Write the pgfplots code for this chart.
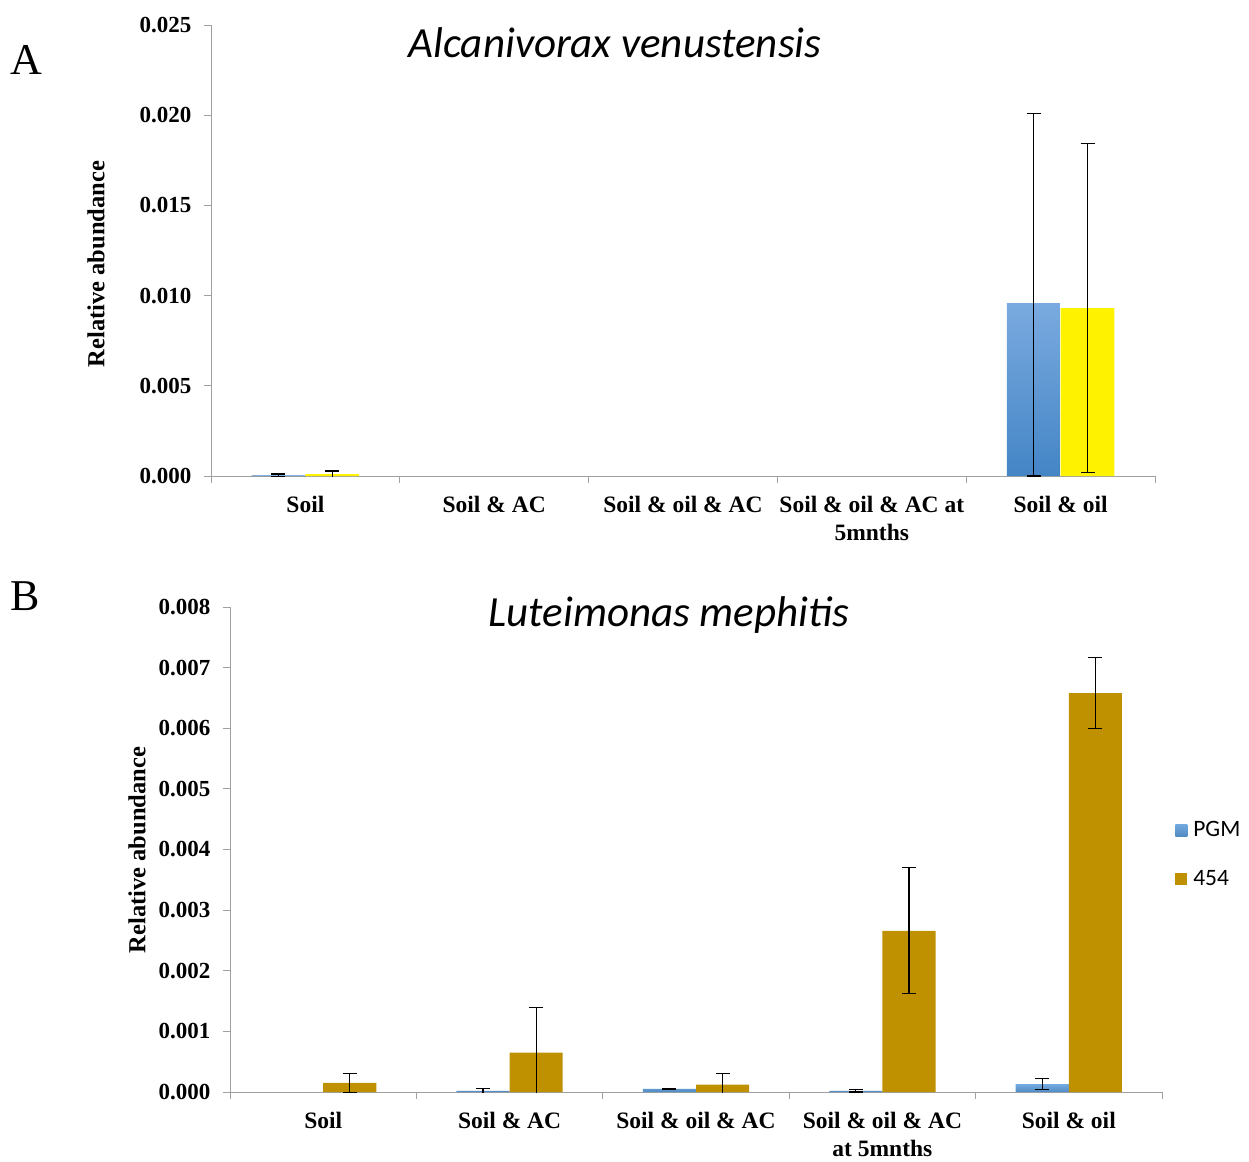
\documentclass[border=0pt]{standalone}
\usepackage{fontspec}
\setmainfont{Liberation Serif}
\newfontfamily\calibri{Carlito}
\usepackage{pgfplots}
\pgfplotsset{compat=1.18}
\definecolor{pgmtop}{HTML}{7AAADF}
\definecolor{pgmbot}{HTML}{4485C6}
\definecolor{pgmB}{HTML}{5A9BD9}
\definecolor{goldB}{HTML}{BF9000}
\definecolor{axgray}{HTML}{A0A0A0}
\pgfplotsset{
  common/.style={
    scale only axis,
    xmin=-0.5, xmax=4.5,
    ymin=0,
    axis x line*=bottom, axis y line*=left,
    axis line style={draw=axgray, line width=1pt, -},
    tick style={draw=axgray, line width=1pt},
    tick align=outside,
    major tick length=7pt,
    xtick={-0.5,0.5,1.5,2.5,3.5,4.5},
    x tick label as interval,
    ytick pos=left, xtick pos=bottom,
    scaled y ticks=false,
    /pgf/number format/assume math mode=true,
    yticklabel style={/pgf/number format/fixed, /pgf/number format/fixed zerofill, /pgf/number format/precision=3, font=\fontsize{23}{23}\selectfont\bfseries, xshift=-9pt},
    xticklabel style={font=\fontsize{23.5}{28}\selectfont\bfseries, align=center, anchor=north, yshift=-10pt},
    ybar=0pt, bar width=0.285,
    error bars/y dir=both, error bars/y explicit,
    error bars/error bar style={black, line width=1.1pt},
    error bars/error mark options={rotate=90, black, mark size=7pt, line width=1.1pt},
  }
}
\begin{document}
\begin{tikzpicture}
\useasboundingbox (0,0) rectangle (1249pt,-1161pt);
% Panel A
\begin{axis}[common,
  at={(211pt,-476pt)}, anchor=south west,
  width=944pt, height=451pt,
  ymax=0.025,
  ytick={0,0.005,0.010,0.015,0.020,0.025},
  xticklabels={Soil, Soil \& AC, Soil \& oil \& AC, Soil \& oil \& AC at\\5mnths, Soil \& oil},
]
\addplot[draw=none, bar shift=-0.1425, shade, top color=pgmtop, bottom color=pgmbot]
  coordinates {(0,0.00004) +- (0,0.00007) (4,0.00959) += (0,0.0105) -= (0,0.00959)};
\addplot[draw=none, bar shift=0.1425, fill=yellow]
  coordinates {(0,0.0001) +- (0,0.00018) (4,0.00931) +- (0,0.0091)};
\end{axis}
% Panel B
\begin{axis}[common,
  at={(230pt,-1092pt)}, anchor=south west,
  width=932pt, height=485pt,
  ymax=0.008,
  ytick={0,0.001,0.002,0.003,0.004,0.005,0.006,0.007,0.008},
  xticklabels={Soil, Soil \& AC, Soil \& oil \& AC, Soil \& oil \& AC\\at 5mnths, Soil \& oil},
  legend style={at={(1.014,0.49)}, anchor=west, draw=none, fill=none, inner sep=0pt,
    row sep=28pt, font=\calibri\fontsize{23.5}{23.5}\selectfont},
  legend cell align=left,
  legend image code/.code={\path[#1, draw=none] (0pt,-6pt) rectangle (12pt,6pt);},
]
\addplot[draw=none, bar shift=-0.1425, shade, top color=pgmB!85!white, bottom color=pgmB!90!black]
  coordinates {(1,0.00002) +- (0,0.00004) (2,0.00005) +- (0,0.000005) (3,0.00002) +- (0,0.00002) (4,0.00013) +- (0,0.00009)};
\addlegendentry{\hspace{4pt}PGM}
\addplot[draw=none, bar shift=0.1425, fill=goldB]
  coordinates {(0,0.00015) +- (0,0.00016) (1,0.00065) +- (0,0.00074) (2,0.00012) +- (0,0.00019) (3,0.00266) +- (0,0.00104) (4,0.00658) +- (0,0.00058)};
\addlegendentry{\hspace{4pt}454}
\end{axis}
% axis labels, titles and panel letters
\node[font=\fontsize{24.5}{24.5}\selectfont\bfseries, rotate=90, anchor=center] at (96pt,-264pt) {Relative abundance};
\node[font=\fontsize{24.5}{24.5}\selectfont\bfseries, rotate=90, anchor=center] at (137pt,-850pt) {Relative abundance};
\node[font=\calibri\itshape\fontsize{43}{43}\selectfont, anchor=center] at (615pt,-43pt) {Alcanivorax venustensis};
\node[font=\calibri\itshape\fontsize{43}{43}\selectfont, anchor=center] at (669pt,-615pt) {Luteimonas mephitis};
\node[font=\fontsize{44}{44}\selectfont, anchor=center] at (26pt,-60pt) {A};
\node[font=\fontsize{44}{44}\selectfont, anchor=center] at (25pt,-596pt) {B};
\end{tikzpicture}
\end{document}
